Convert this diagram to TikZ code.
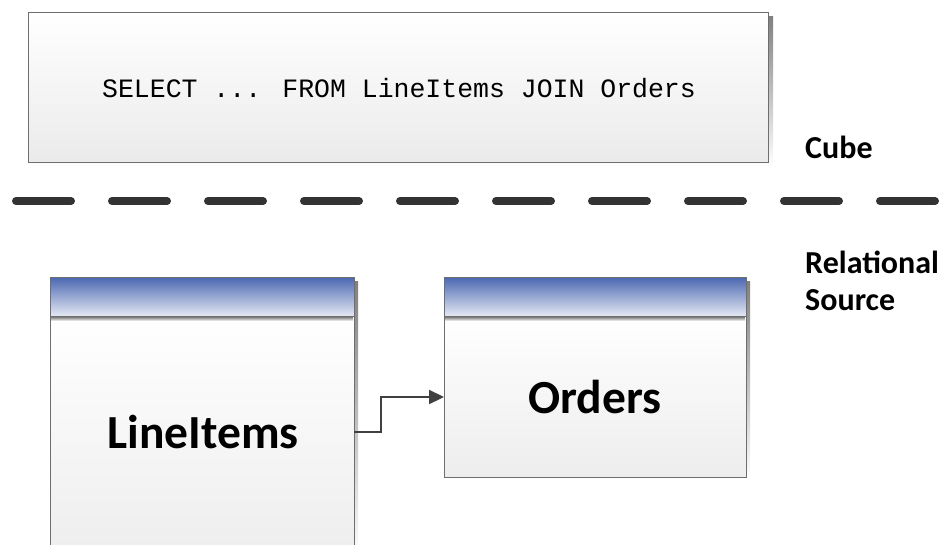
\documentclass[tikz,border=0pt]{standalone}
\usepackage{fontspec}
\setmainfont{Carlito}
\newfontfamily\monof{Liberation Mono}
\usetikzlibrary{arrows.meta}
\definecolor{hdtop}{HTML}{4A67B0}
\definecolor{hdbot}{HTML}{E4E8F4}
\definecolor{edge}{HTML}{6E6E6E}
\definecolor{conn}{HTML}{404040}
\definecolor{shade}{HTML}{E2E2E2}
\tikzset{
  querybox/.style={draw=edge, line width=0.8pt, top color=white, bottom color=black!8, inner sep=0pt, outer sep=0pt},
  tablehead/.style={draw=edge, line width=0.8pt, top color=hdtop, bottom color=hdbot, inner sep=0pt, outer sep=0pt},
  tablebody/.style={draw=edge, line width=0.8pt, top color=white, bottom color=black!7, inner sep=0pt, outer sep=0pt},
  bigname/.style={font=\fontsize{47.5}{56}\selectfont\bfseries, inner sep=0pt},
  sidelabel/.style={font=\fontsize{32}{37}\selectfont\bfseries, align=left, anchor=west, inner sep=0pt},
  conn/.style={draw=conn, line width=2.2pt, -{Triangle[length=15pt,width=14pt]}},
  divider/.style={draw=black!80, line width=8pt, line cap=round, dash pattern=on 55pt off 41pt, dash phase=-4pt}
}
\begin{document}
\begin{tikzpicture}[x=1pt,y=-1pt]
\useasboundingbox (0,0) rectangle (941,544);
% query box
\fill[shade] (32,16) rectangle (773,167);
\node[querybox, minimum width=740pt, minimum height=150pt] (q) at (398,87) {};
\node[font=\monof\fontsize{26.5}{30}\selectfont, inner sep=0pt] (qt) at (399,88) {SELECT ... FROM LineItems JOIN Orders};
\node[sidelabel] (cube) at (805,147) {Cube};
% divider
\coordinate (d0) at (12,201);
\coordinate (d1) at (941,201);
\draw[divider] (d0) -- (d1);
\node[sidelabel] (rel) at (805,281) {Relational\\Source};
% LineItems table
\fill[shade] (54,281) rectangle (358,560);
\node[tablebody, minimum width=304pt, minimum height=244pt] (lbox) at (202,438) {};
\fill[shade] (51,317) rectangle (353,321);
\node[tablehead, minimum width=304pt, minimum height=39pt] (lhead) at (202,296.5) {};
\node[bigname] (li) at (203,432) {LineItems};
% Orders table
\fill[shade] (448,281) rectangle (750,481);
\node[tablebody, minimum width=302pt, minimum height=161pt] (obox) at (595,396.5) {};
\fill[shade] (445,317) rectangle (745,321);
\node[tablehead, minimum width=302pt, minimum height=39pt] (ohead) at (595,296.5) {};
\node[bigname] (ord) at (595,397) {Orders};
% connector
\coordinate (bend) at (381,0);
\draw[conn] (lbox.east |- li) -| (bend |- ord) -- (obox.west |- ord);
\end{tikzpicture}
\end{document}
